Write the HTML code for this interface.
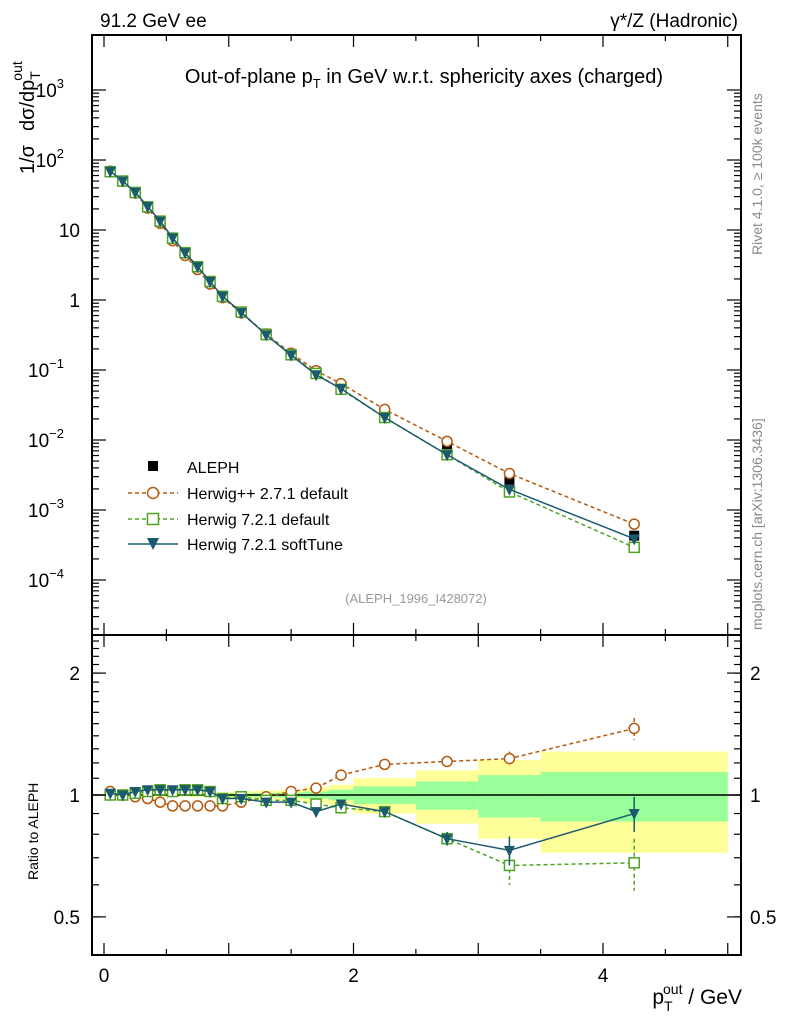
<!DOCTYPE html>
<html><head><meta charset="utf-8"><style>
body{margin:0;background:#fff;}
svg{font-family:"Liberation Sans",sans-serif;}
</style></head><body>
<svg id="chart" width="786" height="1024" viewBox="0 0 786 1024">
<g id="bands"></g>
<g id="main"></g>
<g id="ratio"></g>
<rect x="92" y="35" width="649" height="600" fill="none" stroke="#000" stroke-width="2"/>
<rect x="92" y="635" width="649" height="320" fill="none" stroke="#000" stroke-width="2"/>
<g id="axes"></g>
<text x="100" y="27" font-size="19">91.2 GeV ee</text>
<text x="738" y="27" font-size="19" text-anchor="end">γ*/Z (Hadronic)</text>
<text x="424" y="83" font-size="20" text-anchor="middle">Out-of-plane p<tspan font-size="13" dy="5">T</tspan><tspan dy="-5"> in GeV w.r.t. sphericity axes (charged)</tspan></text>
<text x="416" y="603" font-size="13" fill="#999" text-anchor="middle">(ALEPH_1996_I428072)</text>
<text transform="translate(762,255) rotate(-90)" font-size="14" fill="#888">Rivet 4.1.0, ≥ 100k events</text>
<text transform="translate(762,630) rotate(-90)" font-size="14" fill="#888">mcplots.cern.ch [arXiv:1306.3436]</text>
<text transform="translate(34,174) rotate(-90)" font-size="20">1/σ<tspan dx="14">dσ/dp</tspan><tspan font-size="14" dy="6">T</tspan><tspan font-size="14" dy="-18" dx="-8">out</tspan></text>
<text transform="translate(38,880) rotate(-90)" font-size="14">Ratio to ALEPH</text>
<text x="742" y="1004" font-size="21" text-anchor="end">p<tspan font-size="14" dy="7">T</tspan><tspan font-size="14" dy="-17" dx="-8">out</tspan><tspan dy="10"> / GeV</tspan></text>
<g id="legend">
<rect x="148" y="461" width="10" height="10" fill="#000"/>
<text x="187" y="473" font-size="16">ALEPH</text>
<line x1="128" y1="493" x2="178" y2="493" stroke="#b35a0f" stroke-width="1.5" stroke-dasharray="4,3"/>
<circle cx="153" cy="493" r="5.5" fill="#fff" stroke="#b35a0f" stroke-width="1.5"/>
<text x="187" y="499" font-size="16">Herwig++ 2.7.1 default</text>
<line x1="128" y1="519" x2="178" y2="519" stroke="#4ea21f" stroke-width="1.5" stroke-dasharray="4,3"/>
<rect x="147.5" y="513.5" width="11" height="11" fill="#fff" stroke="#4ea21f" stroke-width="1.5"/>
<text x="187" y="525" font-size="16">Herwig 7.2.1 default</text>
<line x1="128" y1="544" x2="178" y2="544" stroke="#1b5a6e" stroke-width="1.5"/>
<path d="M147,538 L159,538 L153,550 Z" fill="#1b5a6e"/>
<text x="187" y="550" font-size="16">Herwig 7.2.1 softTune</text>
</g>
</svg>
<script>
const xCenters=[0.05,0.15,0.25,0.35,0.45,0.55,0.65,0.75,0.85,0.95,1.1,1.3,1.5,1.7,1.9,2.25,2.75,3.25,4.25];
const binEdges=[0,0.1,0.2,0.3,0.4,0.5,0.6,0.7,0.8,0.9,1.0,1.2,1.4,1.6,1.8,2.0,2.5,3.0,3.5,5.0];
const alephValues=[68,50,34,21,13,7.5,4.6,2.9,1.8,1.15,0.68,0.33,0.17,0.094,0.057,0.023,0.0079,0.0027,0.00043];
const bandTotal=[0.01,0.01,0.01,0.01,0.01,0.01,0.01,0.012,0.013,0.015,0.02,0.025,0.03,0.045,0.06,0.1,0.15,0.22,0.28];
const bandStat=[0.005,0.005,0.005,0.005,0.005,0.005,0.006,0.006,0.007,0.008,0.01,0.012,0.015,0.02,0.03,0.05,0.08,0.12,0.14];
const ratioHpp=[1.02,1.0,0.99,0.98,0.96,0.94,0.94,0.94,0.94,0.94,0.96,0.99,1.02,1.04,1.12,1.19,1.21,1.23,1.46];
const ratioH7=[1.0,1.0,1.01,1.02,1.03,1.02,1.03,1.03,1.02,0.98,0.99,0.97,0.97,0.95,0.93,0.91,0.78,0.67,0.68];
const ratioSoft=[1.01,1.0,1.02,1.03,1.03,1.03,1.03,1.03,1.02,0.98,0.98,0.96,0.96,0.91,0.95,0.91,0.78,0.73,0.90];
const errHpp=[0,0,0,0,0,0,0,0,0,0,0,0,0,0,0.01,0.02,0.03,0.05,0.09];
const errH7=[0,0,0,0,0,0,0,0,0,0,0,0,0,0,0.01,0.02,0.03,0.07,0.1];
const errSoft=[0,0,0,0,0,0,0,0,0,0,0,0,0,0,0.01,0.02,0.03,0.06,0.09];
const xTicks=[0,2,4];
const yTicksMain=[-4,-3,-2,-1,0,1,2,3];
const yTickLabelsMain=["10","10","10","10","1","10","10","10"];
const yTickExpMain=["−4","−3","−2","−1","","","2","3"];
const ratioTicks=[0.5,1,2];

const NS="http://www.w3.org/2000/svg";
function X(v){return 104+124.75*v;}
function YM(v){return 300-70*Math.log10(v);}
function YR(r){return 795-405*Math.log10(r);}
function mk(tag,attrs,parent){const e=document.createElementNS(NS,tag);for(const k in attrs)e.setAttribute(k,attrs[k]);parent.appendChild(e);return e;}
const bands=document.getElementById('bands'),main=document.getElementById('main'),ratio=document.getElementById('ratio'),axes=document.getElementById('axes');

for(let i=0;i<xCenters.length;i++){
 const x0=X(binEdges[i]),x1=X(binEdges[i+1]);
 const y=mk('rect',{x:x0,y:YR(1+bandTotal[i]),width:x1-x0,height:YR(1-bandTotal[i])-YR(1+bandTotal[i]),fill:'#ffff99'},bands);
 
 
 const g=mk('rect',{x:x0,y:YR(1+bandStat[i]),width:x1-x0,height:YR(1-bandStat[i])-YR(1+bandStat[i]),fill:'#99ff99'},bands);
 
 
}
const one=mk('line',{x1:92,x2:741,y1:YR(1),y2:YR(1),stroke:'#000','stroke-width':1.5},ratio);



const series=[
 {r:ratioHpp,e:errHpp,c:'#b35a0f',dash:'4,3',m:'circle',n:'herwigpp'},
 {r:ratioH7,e:errH7,c:'#4ea21f',dash:'4,3',m:'square',n:'herwig7-default'},
 {r:ratioSoft,e:errSoft,c:'#1b5a6e',dash:'',m:'tri',n:'herwig7-softtune'}];
function marker(type,cx,cy,c,parent,name){
 let e;
 if(type==='circle')e=mk('circle',{cx:cx,cy:cy,r:5,fill:'#fff',stroke:c,'stroke-width':1.5},parent);
 else if(type==='square')e=mk('rect',{x:cx-5,y:cy-5,width:10,height:10,fill:'#fff',stroke:c,'stroke-width':1.5},parent);
 else e=mk('path',{d:`M${cx-5.5},${cy-4.5} L${cx+5.5},${cy-4.5} L${cx},${cy+6.5} Z`,fill:c},parent);
 
 
}
for(let i=0;i<xCenters.length;i++){
 const r=mk('rect',{x:X(xCenters[i])-5,y:YM(alephValues[i])-5,width:10,height:10,fill:'#000'},main);
 
 
}
series.forEach(s=>{
 const ptsM=xCenters.map((x,i)=>X(x)+','+YM(alephValues[i]*s.r[i])).join(' ');
 const ptsR=xCenters.map((x,i)=>X(x)+','+YR(s.r[i])).join(' ');
 const lm=mk('polyline',{points:ptsM,fill:'none',stroke:s.c,'stroke-width':1.5,'stroke-dasharray':s.dash},main);
 
 
 const lr=mk('polyline',{points:ptsR,fill:'none',stroke:s.c,'stroke-width':1.5,'stroke-dasharray':s.dash},ratio);
 
 
 xCenters.forEach((x,i)=>{
  marker(s.m,X(x),YM(alephValues[i]*s.r[i]),s.c,main,s.n+'-point-'+i);
  if(s.e[i]>0){
   const eb=mk('line',{x1:X(x),x2:X(x),y1:YR(s.r[i]+s.e[i]),y2:YR(s.r[i]-s.e[i]),stroke:s.c,'stroke-width':1.5,'stroke-dasharray':s.dash},ratio);
   
   
  }
  marker(s.m,X(x),YR(s.r[i]),s.c,ratio,s.n+'-ratio-point-'+i);
 });
});
function tick(x1,y1,x2,y2){mk('line',{x1:x1,y1:y1,x2:x2,y2:y2,stroke:'#000','stroke-width':1.2},axes);}
function txt(x,y,s,anchor,size){const t=mk('text',{x:x,y:y,'font-size':size||19,'text-anchor':anchor||'middle'},axes);t.textContent=s;return t;}
for(let v=0;v<=5.001;v+=0.5){
 const big=Math.abs(v-Math.round(v))<1e-6;const L=big?12:6;
 [[35,1],[635,-1],[635,1],[955,-1]].forEach(([y,d])=>tick(X(v),y,X(v),y+d*L));
}
xTicks.forEach(v=>txt(X(v),982,String(v)));
yTicksMain.forEach((p,i)=>{
 const y=YM(Math.pow(10,p));
 tick(92,y,106,y);tick(741,y,727,y);
 for(let m=2;m<10;m++){const ym=YM(m*Math.pow(10,p-1));if(ym<636&&ym>35){tick(92,ym,99,ym);tick(741,ym,734,ym);}}
 const t=txt(80,y+7,yTickLabelsMain[i],'end',19);
 if(yTickExpMain[i]){t.setAttribute('x',64);const s=mk('tspan',{dy:-9,'font-size':13},t);s.textContent=yTickExpMain[i];}
});
for(let r=0.4;r<=2.5;r+=0.1){const y=YR(r);if(y>636&&y<954){tick(92,y,99,y);tick(741,y,734,y);}}
ratioTicks.forEach(r=>{const y=YR(r);tick(92,y,106,y);tick(741,y,727,y);txt(80,y+7,String(r),'end');txt(750,y+7,String(r),'start');});
</script>
</body></html>
